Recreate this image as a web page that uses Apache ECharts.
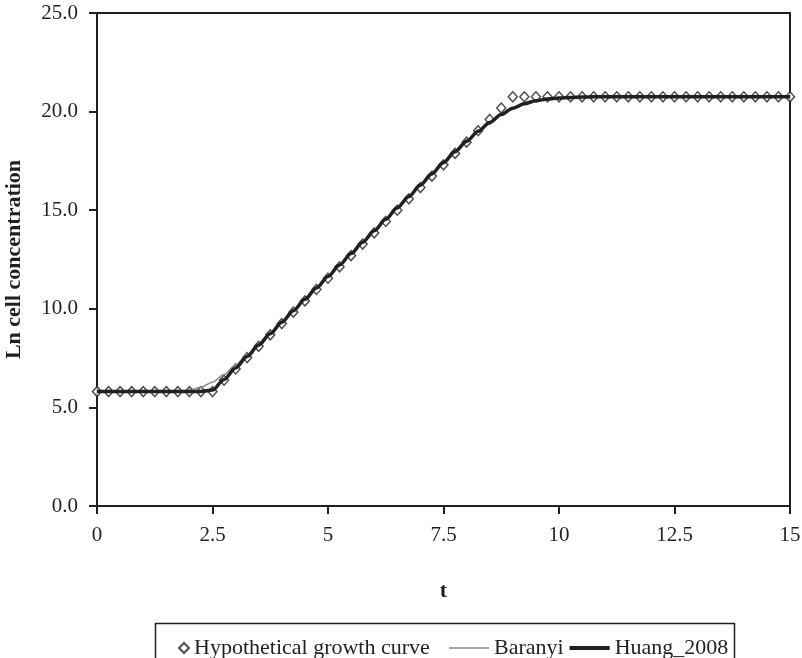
<!DOCTYPE html>
<html>
<head>
<meta charset="utf-8">
<script src="https://cdn.jsdelivr.net/npm/echarts@6/dist/echarts.min.js"></script>
<style>
  html, body { margin: 0; padding: 0; background: #fff; }
  #growthChart { width: 802px; height: 658px; }
</style>
</head>
<body>
<div id="growthChart"></div>
<script>
// time points (t)
var tValues = [
  0, 0.25, 0.5, 0.75, 1, 1.25, 1.5, 1.75, 2, 2.25,
  2.5, 2.75, 3, 3.25, 3.5, 3.75, 4, 4.25, 4.5, 4.75,
  5, 5.25, 5.5, 5.75, 6, 6.25, 6.5, 6.75, 7, 7.25,
  7.5, 7.75, 8, 8.25, 8.5, 8.75, 9, 9.25, 9.5, 9.75,
  10, 10.25, 10.5, 10.75, 11, 11.25, 11.5, 11.75, 12, 12.25,
  12.5, 12.75, 13, 13.25, 13.5, 13.75, 14, 14.25, 14.5, 14.75,
  15
];

// hypothetical growth curve (markers)
var hypothetical = [
  5.8, 5.8, 5.8, 5.8, 5.8, 5.8, 5.8, 5.8, 5.8, 5.8,
  5.8, 6.38, 6.95, 7.53, 8.1, 8.68, 9.25, 9.83, 10.4, 10.98,
  11.55, 12.13, 12.7, 13.28, 13.85, 14.43, 15.0, 15.58, 16.15, 16.73,
  17.3, 17.88, 18.45, 19.03, 19.6, 20.18, 20.75, 20.75, 20.75, 20.75,
  20.75, 20.75, 20.75, 20.75, 20.75, 20.75, 20.75, 20.75, 20.75, 20.75,
  20.75, 20.75, 20.75, 20.75, 20.75, 20.75, 20.75, 20.75, 20.75, 20.75,
  20.75
];

// Baranyi model fit
var baranyi = [
  5.8, 5.8, 5.8, 5.8, 5.8, 5.8, 5.8, 5.82, 5.88, 6.02,
  6.28, 6.67, 7.15, 7.68, 8.23, 8.8, 9.37, 9.94, 10.51, 11.08,
  11.65, 12.22, 12.79, 13.36, 13.93, 14.5, 15.07, 15.64, 16.21, 16.78,
  17.35, 17.9, 18.43, 18.95, 19.42, 19.84, 20.17, 20.4, 20.55, 20.64,
  20.69, 20.72, 20.73, 20.75, 20.75, 20.75, 20.75, 20.75, 20.75, 20.75,
  20.75, 20.75, 20.75, 20.75, 20.75, 20.75, 20.75, 20.75, 20.75, 20.75,
  20.75
];

// Huang (2008) model fit
var huang = [
  5.8, 5.8, 5.8, 5.8, 5.8, 5.8, 5.8, 5.8, 5.8, 5.8,
  5.88, 6.42, 7.0, 7.58, 8.16, 8.74, 9.32, 9.9, 10.48, 11.06,
  11.64, 12.22, 12.8, 13.38, 13.96, 14.54, 15.12, 15.7, 16.28, 16.85,
  17.42, 17.98, 18.5, 19.0, 19.45, 19.85, 20.17, 20.4, 20.55, 20.64,
  20.69, 20.72, 20.74, 20.75, 20.75, 20.75, 20.75, 20.75, 20.75, 20.75,
  20.75, 20.75, 20.75, 20.75, 20.75, 20.75, 20.75, 20.75, 20.75, 20.75,
  20.75
];

function pairs(ys) {
  return tValues.map(function (t, i) { return [t, ys[i]]; });
}

var ink = '#231f20';
var grey = '#8a8a8a';
var serif = 'Liberation Serif';

var myChart = echarts.init(document.getElementById('growthChart'));
myChart.setOption({
  animation: false,
  backgroundColor: '#fff',
  textStyle: { fontFamily: serif, color: ink },
  grid: {
    left: 97, //与左边的距离
    right: 12,
    top: 13,
    bottom: 152,
    show: true,
    borderColor: ink,
    borderWidth: 2,
    containLabel: false,
    outerBoundsMode: 'none'
  },
  xAxis: {
    type: 'value',
    min: 0,
    max: 15,
    interval: 2.5,
    name: 't',
    nameLocation: 'middle',
    nameGap: 74,
    nameTextStyle: { fontFamily: serif, fontWeight: 'bold', fontSize: 22, color: ink },
    axisLine: { lineStyle: { color: ink, width: 2 } },
    axisTick: { length: 8, lineStyle: { color: ink, width: 2 } },
    axisLabel: { fontFamily: serif, fontSize: 21, color: ink, margin: 19 },
    splitLine: { show: false }
  },
  yAxis: {
    type: 'value',
    min: 0,
    max: 25,
    interval: 5,
    name: 'Ln cell concentration',
    nameLocation: 'middle',
    nameGap: 72,
    nameTextStyle: { fontFamily: serif, fontWeight: 'bold', fontSize: 22, color: ink },
    axisLine: { lineStyle: { color: ink, width: 2 } },
    axisTick: { length: 8, lineStyle: { color: ink, width: 2 } },
    axisLabel: {
      fontFamily: serif, fontSize: 21, color: ink, margin: 19,
      formatter: function (v) { return v.toFixed(1); }
    },
    splitLine: { show: false }
  },
  legend: [
    {
      data: [{ name: 'Hypothetical growth curve', icon: 'diamond' }],
      left: 173,
      top: 632,
      itemWidth: 10,
      itemHeight: 10,
      textStyle: { fontFamily: serif, fontSize: 22, color: ink }
    },
    {
      data: [
        { name: 'Baranyi', icon: 'path://M0,0L40,0L40,1.5L0,1.5Z' },
        { name: 'Huang_2008', icon: 'path://M0,0L40,0L40,4L0,4Z' }
      ],
      left: 444,
      top: 632,
      itemWidth: 40,
      itemHeight: 14,
      itemGap: 6,
      textStyle: { fontFamily: serif, fontSize: 22, color: ink }
    }
  ],
  graphic: [
    {
      type: 'rect',
      left: 153,
      top: 621,
      shape: { width: 579, height: 60 },
      style: { fill: 'none', stroke: ink, lineWidth: 1.5 },
      silent: true
    }
  ],
  series: [
    {
      name: 'Hypothetical growth curve',
      type: 'scatter',
      symbol: 'diamond',
      symbolSize: [9, 10],
      itemStyle: { color: '#fff', borderColor: ink, borderWidth: 1.5 },
      data: pairs(hypothetical)
    },
    {
      name: 'Baranyi',
      type: 'line',
      smooth: 0.3,
      smoothMonotone: 'x',
      showSymbol: false,
      symbol: 'none',
      itemStyle: { color: grey },
      lineStyle: { color: grey, width: 1.5 },
      data: pairs(baranyi)
    },
    {
      name: 'Huang_2008',
      type: 'line',
      smooth: 0.3,
      smoothMonotone: 'x',
      showSymbol: false,
      symbol: 'none',
      itemStyle: { color: ink },
      lineStyle: { color: ink, width: 3.5 },
      data: pairs(huang)
    }
  ]
});
</script>
</body>
</html>
